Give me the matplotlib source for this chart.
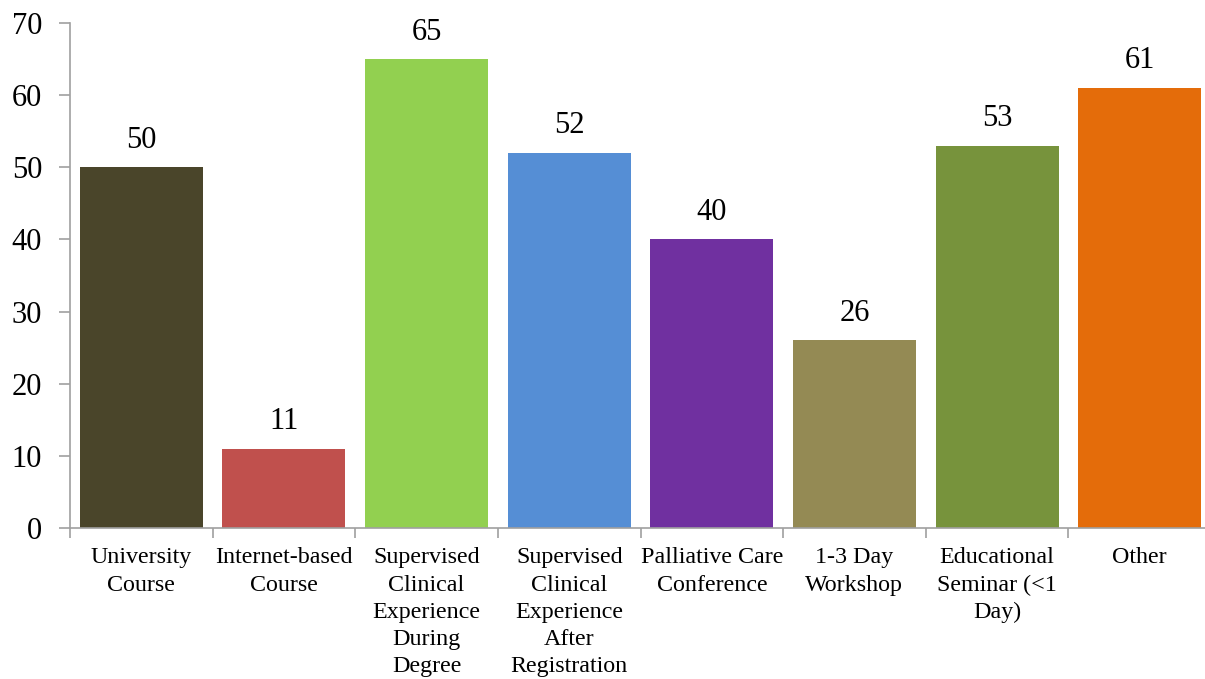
import numpy as np
import matplotlib
matplotlib.use("Agg")
import matplotlib.pyplot as plt
from matplotlib.ticker import FixedLocator

# Data
categories = [
    "University\nCourse",
    "Internet-based\nCourse",
    "Supervised\nClinical\nExperience\nDuring\nDegree",
    "Supervised\nClinical\nExperience\nAfter\nRegistration",
    "Palliative Care\nConference",
    "1-3 Day\nWorkshop",
    "Educational\nSeminar (<1\nDay)",
    "Other",
]
values = [50, 11, 65, 52, 40, 26, 53, 61]
colors = ["#4A452A", "#C0504D", "#92D050", "#558ED5",
          "#7030A0", "#948A54", "#77933C", "#E46C0A"]
y_ticks = [0, 10, 20, 30, 40, 50, 60, 70]

plt.rcParams['font.family'] = ['Liberation Serif', 'DejaVu Serif']

fig = plt.figure(figsize=(12.05, 6.79), dpi=100)
ax = fig.add_axes([70 / 1205, 151 / 679, 1141 / 1205, 505 / 679])

x = np.arange(len(values))
bars = ax.bar(x, values, width=0.862, color=colors, zorder=2)

# value labels above bars
for b, v in zip(bars, values):
    ax.annotate(str(v), (b.get_x() + b.get_width() / 2, v),
                xytext=(0, 9), textcoords="offset points",
                ha="center", va="bottom", fontsize=22)

ax.set_xlim(-0.5, len(values) - 0.5)
ax.set_ylim(0, 70)
ax.set_yticks(y_ticks)
ax.tick_params(axis="y", labelsize=22, length=8, width=1.2,
               color="#a0a0a0", pad=12)

ax.set_xticks(x)
ax.set_xticklabels(categories, fontsize=17.3, linespacing=1.38)
ax.tick_params(axis="x", which="major", length=0, pad=14)
ax.xaxis.set_minor_locator(FixedLocator(np.arange(-0.5, len(values), 1.0)))
ax.tick_params(axis="x", which="minor", length=7, width=1.2, color="#a0a0a0")

for side in ["top", "right"]:
    ax.spines[side].set_visible(False)
for side in ["left", "bottom"]:
    ax.spines[side].set_color("#a0a0a0")
    ax.spines[side].set_linewidth(1.2)

fig.savefig("out.png", dpi=100)
